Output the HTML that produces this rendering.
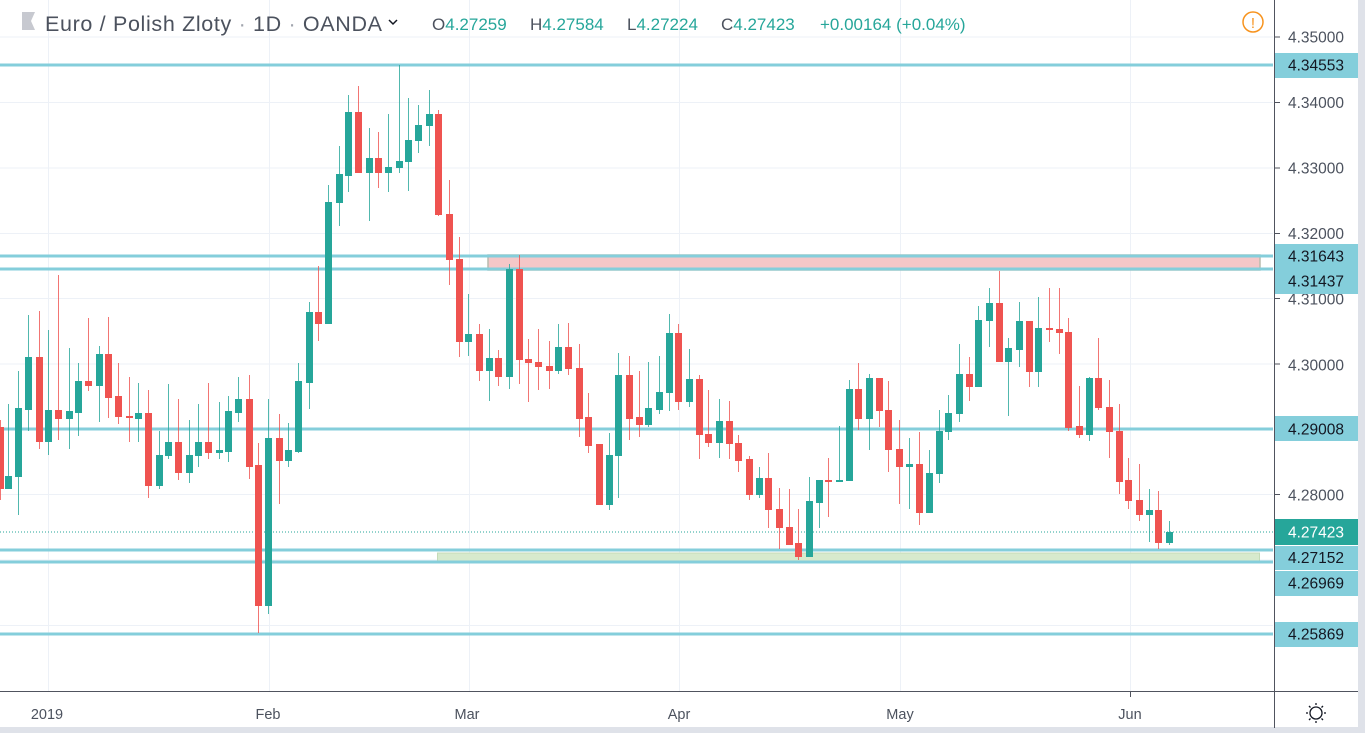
<!DOCTYPE html>
<html><head><meta charset="utf-8"><style>
html,body{margin:0;padding:0;background:#fff;width:1365px;height:733px;overflow:hidden}
svg{display:block;font-family:"Liberation Sans",sans-serif}
</style></head><body>
<svg id="s" width="1365" height="733" xmlns="http://www.w3.org/2000/svg">
<rect x="0" y="0" width="1365" height="733" fill="#fff"/>
<rect x="1358" y="0" width="7" height="733" fill="#dfe2e9"/>
<rect x="0" y="727" width="1365" height="6" fill="#dfe2e9"/>
<g stroke="#edf1f7" stroke-width="1">
<line x1="0" x2="1273" y1="37" y2="37"/><line x1="0" x2="1273" y1="102.5" y2="102.5"/><line x1="0" x2="1273" y1="168" y2="168"/><line x1="0" x2="1273" y1="233.5" y2="233.5"/><line x1="0" x2="1273" y1="298.5" y2="298.5"/><line x1="0" x2="1273" y1="364" y2="364"/><line x1="0" x2="1273" y1="429.5" y2="429.5"/><line x1="0" x2="1273" y1="494.5" y2="494.5"/><line x1="0" x2="1273" y1="560" y2="560"/><line x1="0" x2="1273" y1="625.5" y2="625.5"/>
<line x1="48.5" x2="48.5" y1="0" y2="691"/><line x1="269.5" x2="269.5" y1="0" y2="691"/><line x1="469.5" x2="469.5" y1="0" y2="691"/><line x1="679.5" x2="679.5" y1="0" y2="691"/><line x1="900.5" x2="900.5" y1="0" y2="691"/><line x1="1130.5" x2="1130.5" y1="0" y2="691"/>
</g>
<rect x="488" y="255" width="772" height="15" fill="#f4c7c8" stroke="#b9bcae" stroke-width="1.5"/>
<rect x="437.5" y="553" width="822" height="9" fill="#d7eacd" stroke="#c5dbb8" stroke-width="1"/>
<g stroke="#84cedb" stroke-width="3">
<line x1="0" x2="1273" y1="65" y2="65"/><line x1="0" x2="1273" y1="256" y2="256"/><line x1="0" x2="1273" y1="269" y2="269"/><line x1="0" x2="1273" y1="429" y2="429"/><line x1="0" x2="1273" y1="550" y2="550"/><line x1="0" x2="1273" y1="562" y2="562"/><line x1="0" x2="1273" y1="634" y2="634"/>
</g>
<line x1="0" x2="1273" y1="532" y2="532" stroke="#26a69a" stroke-width="1" stroke-dasharray="1,2"/>
<g id="c"></g>
<line x1="1274.5" x2="1274.5" y1="0" y2="728" stroke="#50535e"/>
<line x1="0" x2="1358" y1="691.5" y2="691.5" stroke="#50535e"/>
<g fill="#4c525e" font-size="15.5">
<text x="1288" y="42.5">4.35000</text><text x="1288" y="108">4.34000</text><text x="1288" y="173.5">4.33000</text><text x="1288" y="239">4.32000</text><text x="1288" y="304.5">4.31000</text><text x="1288" y="370.5">4.30000</text><text x="1288" y="500.5">4.28000</text>
</g>
<g stroke="#50535e"><line x1="1275" x2="1280" y1="37" y2="37"/><line x1="1275" x2="1280" y1="102.5" y2="102.5"/><line x1="1275" x2="1280" y1="168" y2="168"/><line x1="1275" x2="1280" y1="233.5" y2="233.5"/><line x1="1275" x2="1280" y1="298.5" y2="298.5"/><line x1="1275" x2="1280" y1="364" y2="364"/><line x1="1275" x2="1280" y1="494.5" y2="494.5"/></g>
<g fill="#84cedb">
<rect x="1275" y="53" width="83" height="25"/><rect x="1275" y="244" width="83" height="50"/><rect x="1275" y="416" width="83" height="25"/><rect x="1275" y="546" width="83" height="24"/><rect x="1275" y="571" width="83" height="25"/><rect x="1275" y="622" width="83" height="25"/>
</g>
<rect x="1275" y="519" width="83" height="26" fill="#26a69a"/>
<g fill="#131722" font-size="15.5">
<text x="1288" y="70.5">4.34553</text><text x="1288" y="261.5">4.31643</text><text x="1288" y="286.5">4.31437</text><text x="1288" y="434.5">4.29008</text><text x="1288" y="563">4.27152</text><text x="1288" y="588.5">4.26969</text><text x="1288" y="639.5">4.25869</text>
</g>
<text x="1288" y="537.5" fill="#fff" font-size="15.5">4.27423</text>
<g fill="#4c525e" font-size="14.5" text-anchor="middle">
<text x="47" y="719">2019</text><text x="268" y="719">Feb</text><text x="467" y="719">Mar</text><text x="679" y="719">Apr</text><text x="900" y="719">May</text><text x="1130" y="719">Jun</text>
</g>
<g stroke="#50535e"><line x1="1130.5" x2="1130.5" y1="692" y2="697"/></g>
<g stroke="#131722" stroke-width="1.3" fill="none">
<circle cx="1316" cy="713" r="6"/>
<line x1="1316" x2="1316" y1="703" y2="705"/><line x1="1316" x2="1316" y1="721" y2="723"/><line x1="1306" x2="1308" y1="713" y2="713"/><line x1="1324" x2="1326" y1="713" y2="713"/>
<line x1="1309" x2="1310.5" y1="706" y2="707.5"/><line x1="1321.5" x2="1323" y1="718.5" y2="720"/><line x1="1309" x2="1310.5" y1="720" y2="718.5"/><line x1="1321.5" x2="1323" y1="707.5" y2="706"/>
</g>
<path d="M22 12 H35 L31 21 L35 30 H22 Z" fill="#c7c9d0"/>
<text x="45" y="31" font-size="21.5" fill="#4c525e" textLength="337" lengthAdjust="spacing">Euro / Polish Zloty <tspan fill="#a0a4ad">·</tspan> 1D <tspan fill="#a0a4ad">·</tspan> OANDA</text>
<path d="M389 20 l4 4 l4 -4" stroke="#131722" stroke-width="1.5" fill="none"/>
<text y="30" font-size="17" fill="#26a69a"><tspan x="432" fill="#4c525e">O</tspan>4.27259<tspan x="530" fill="#4c525e">H</tspan>4.27584<tspan x="627" fill="#4c525e">L</tspan>4.27224<tspan x="721" fill="#4c525e">C</tspan>4.27423<tspan x="820">+0.00164 (+0.04%)</tspan></text>
<circle cx="1253" cy="22" r="10" fill="none" stroke="#f7931e" stroke-width="1.5"/>
<text x="1253" y="28" font-size="15" fill="#f7931e" text-anchor="middle">!</text>
</svg>
<script>
var d=[[0,427,489,420,500],[8,489,476,404,489],[18,477,408,371,515],[28,410,357,315,431],[39,357,442,311,449],[48,442,410,330,455],[58,410,419,275,440],[69,419,411,348,449],[78,413,381,363,436],[88,381,386,318,391],[99,386,354,346,422],[108,354,398,317,418],[118,396,417,363,424],[129,416,418,377,442],[138,419,413,383,442],[148,413,486,390,498],[159,486,455,431,489],[168,456,442,384,459],[178,442,473,399,480],[189,473,455,420,483],[198,456,442,404,467],[208,442,453,383,459],[219,453,450,402,459],[228,452,411,396,462],[238,413,399,377,422],[249,399,467,375,479],[258,465,606,443,633],[268,606,438,399,614],[279,438,461,414,504],[288,461,450,423,467],[298,452,381,363,453],[309,383,312,302,409],[318,312,324,266,341],[328,324,202,185,324],[339,203,174,146,226],[348,176,112,95,192],[358,112,173,86,173],[369,173,158,128,221],[378,158,173,132,188],[388,173,167,114,192],[399,168,161,65,173],[408,162,140,98,191],[418,141,125,105,153],[429,126,114,90,146],[438,114,215,110,216],[449,214,260,180,285],[459,259,342,237,357],[468,342,334,294,356],[479,334,371,324,381],[489,371,358,329,401],[498,358,377,350,386],[509,377,269,264,389],[519,269,360,255,384],[528,359,363,339,402],[538,362,367,329,390],[549,366,371,341,389],[558,371,347,324,374],[568,347,369,323,375],[579,368,419,344,437],[588,417,446,393,453],[599,444,505,444,505],[609,505,455,433,510],[618,456,375,353,498],[629,375,419,356,440],[639,417,425,371,437],[648,425,408,362,427],[659,410,392,356,414],[669,393,333,314,411],[678,333,402,324,410],[689,402,379,349,407],[699,379,435,375,459],[708,434,443,390,447],[719,443,421,399,458],[729,421,444,401,459],[738,443,461,435,472],[749,459,495,456,500],[759,495,478,467,498],[768,478,510,453,528],[779,509,528,488,549],[789,527,545,489,545],[798,543,557,509,560],[809,557,501,477,557],[819,503,480,480,528],[828,480,482,458,517],[839,482,480,426,482],[849,481,389,380,481],[858,389,419,363,430],[869,419,378,374,450],[879,378,411,378,427],[888,410,450,381,472],[899,449,467,420,504],[909,467,464,438,509],[919,464,513,432,525],[929,513,473,450,513],[939,474,431,410,483],[948,432,413,395,440],[959,414,374,344,422],[969,374,387,357,401],[978,387,320,306,387],[989,321,303,288,347],[999,303,362,271,362],[1008,362,348,338,416],[1019,350,321,302,367],[1029,321,372,321,387],[1038,372,328,297,387],[1049,328,330,288,342],[1059,329,333,288,354],[1068,332,428,318,431],[1079,426,435,386,438],[1089,435,378,377,441],[1098,378,408,338,410],[1109,407,432,380,458],[1119,431,482,404,494],[1128,480,501,458,509],[1139,500,515,464,521],[1149,515,510,489,542],[1158,510,543,491,549],[1169,543,532,521,545]];
var g=document.getElementById('c'),h='';
d.forEach(function(a){var x=a[0],o=a[1],c=a[2],hi=a[3],lo=a[4];var up=c<=o;var col=up?'#26a69a':'#ef5350';var t=Math.min(o,c),b=Math.max(o,c);if(b-t<2)b=t+2;
h+='<line x1="'+(x+0.5)+'" x2="'+(x+0.5)+'" y1="'+hi+'" y2="'+lo+'" stroke="'+col+'" stroke-opacity="0.8"/>';
h+='<rect x="'+(x-3)+'" y="'+t+'" width="7" height="'+(b-t)+'" fill="'+col+'"/>';});
g.innerHTML=h;
</script>
</body></html>
